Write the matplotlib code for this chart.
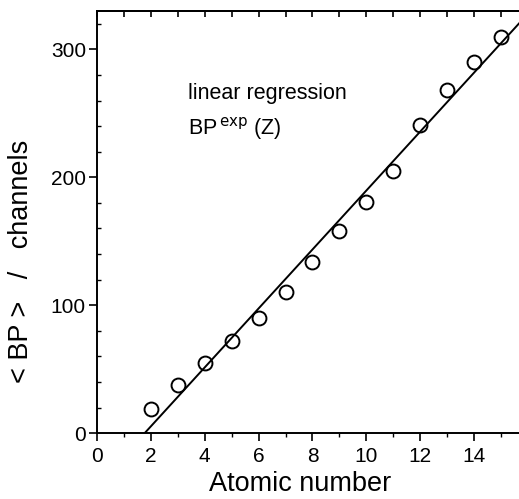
"""
plot.py
Mean BP position vs atomic number with linear regression.
"""

import numpy as np
import matplotlib.pyplot as plt
from matplotlib.ticker import MultipleLocator, FixedLocator

plt.rcParams["font.family"] = ["Liberation Sans", "DejaVu Sans"]

# Data
atomic_number = [2, 3, 4, 5, 6, 7, 8, 9, 10, 11, 12, 13, 14, 15]
bp_channels = [19, 37.5, 55, 72, 90, 110, 133.5, 158, 181, 205, 240.5, 268.5, 290.5, 310]
x_ticks = [0, 2, 4, 6, 8, 10, 12, 14]


def main():
    fig = plt.figure(figsize=(5.19, 4.99), dpi=100)
    ax = fig.add_axes([0.187, 0.132, 0.83, 0.846])

    # Linear regression through the points
    slope, intercept = np.polyfit(atomic_number, bp_channels, 1)
    x0 = -intercept / slope
    xfit = np.array([x0, 16.5])
    ax.plot(xfit, slope * xfit + intercept, color="black", lw=1.4)

    ax.plot(atomic_number, bp_channels, "o", ms=10, mfc="none",
            mec="black", mew=1.4)

    ax.set_xlim(0, 16)
    ax.set_ylim(0, 330)

    ax.xaxis.set_major_locator(FixedLocator(x_ticks))
    ax.xaxis.set_minor_locator(MultipleLocator(1))
    ax.yaxis.set_major_locator(MultipleLocator(100))
    ax.yaxis.set_minor_locator(MultipleLocator(20))

    ax.tick_params(axis="both", which="major", direction="out", length=6,
                   width=1.2, labelsize=15, pad=2)
    ax.tick_params(axis="x", which="major", pad=4)
    ax.tick_params(axis="x", which="minor", direction="out", length=3, width=1)
    ax.tick_params(axis="y", which="minor", direction="in", length=3, width=1)

    # Top ticks pointing inward
    top = ax.secondary_xaxis("top")
    top.xaxis.set_major_locator(MultipleLocator(1))
    top.tick_params(direction="in", length=4, width=1.2, labeltop=False)
    top.spines["top"].set_linewidth(1.4)

    for side in ["left", "bottom", "top", "right"]:
        ax.spines[side].set_linewidth(1.4)

    ax.set_xlabel("Atomic number", fontsize=19.5, labelpad=3.5)
    ax.set_ylabel("< BP >   /   channels", fontsize=19.5, labelpad=12)
    ax.xaxis.label.set_x(0.471)
    ax.yaxis.label.set_y(0.408)

    ax.text(3.38, 261, "linear regression", fontsize=15.5)
    ax.text(3.38, 233.5, r"BP$^{\,\mathrm{exp}}$ (Z)", fontsize=15.5)

    fig.savefig("out.png", dpi=100)
    plt.close(fig)


if __name__ == "__main__":
    main()
